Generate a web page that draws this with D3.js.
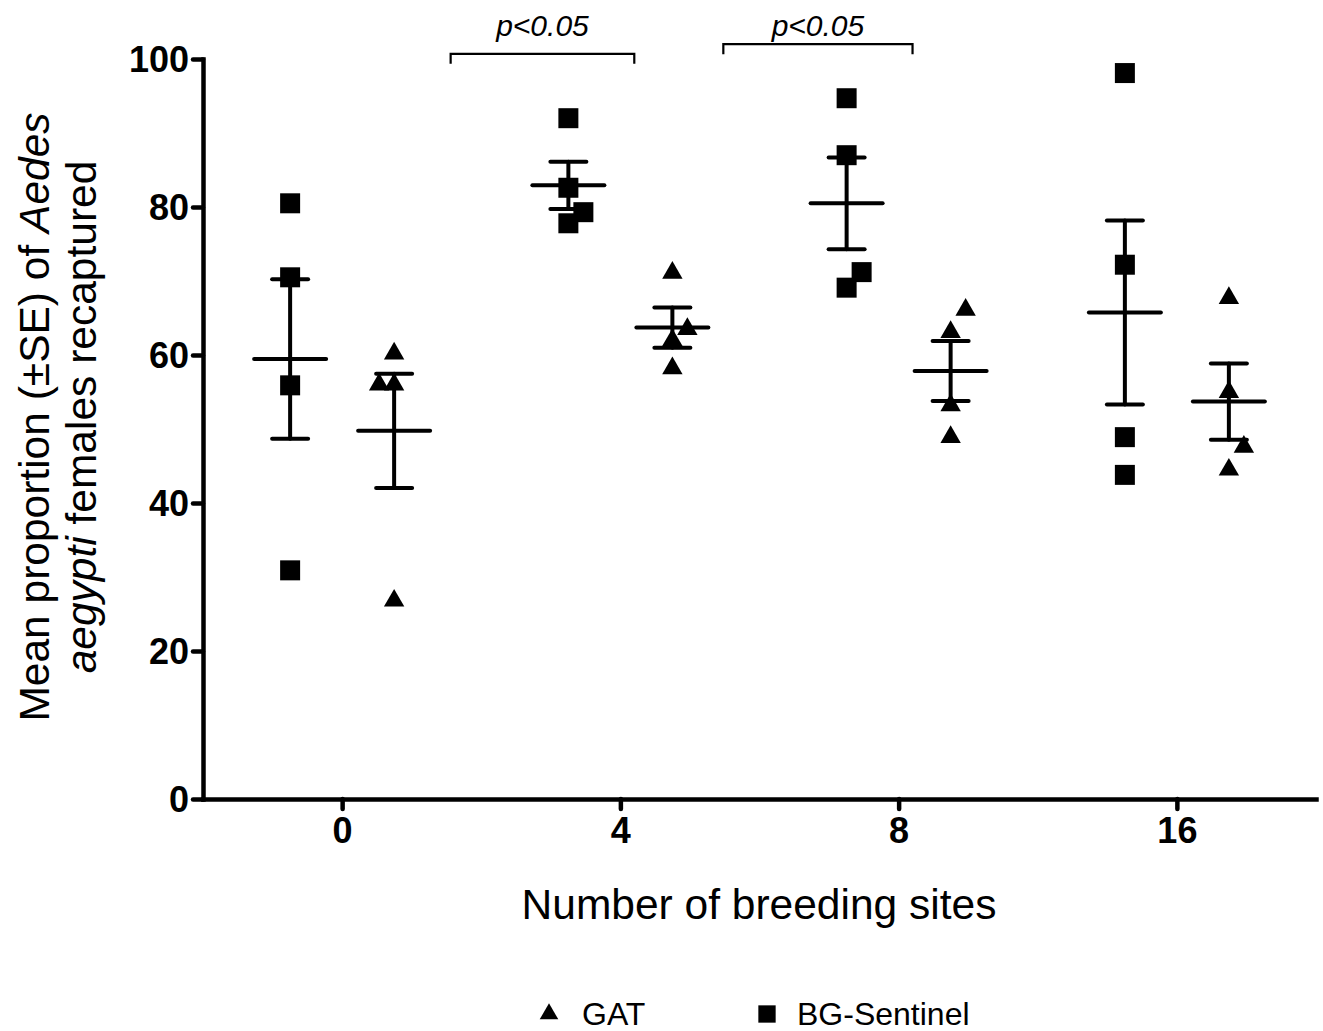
<!DOCTYPE html>
<html>
<head>
<meta charset="utf-8">
<script src="https://cdn.jsdelivr.net/npm/d3@7"></script>
<style>
  body { margin: 0; background: #fff; }
  text { font-family: "Liberation Sans", Arial, sans-serif; fill: #000; }
</style>
</head>
<body>
<div class="canvas"></div>
<script>
// breeding-site groups shown on the x axis
const categories = ['0', '4', '8', '16'];
const series = ['BG-Sentinel', 'GAT'];

// individual replicate values (% recaptured)
const bgSentinel = [
  [80.5, 70.5, 55.9, 30.9],
  [92.0, 82.6, 79.3, 77.8],
  [94.7, 87.0, 71.2, 69.1],
  [98.1, 72.2, 48.9, 43.8]
];
const gat = [
  [60.2, 56.0, 56.0, 26.8],
  [71.1, 63.5, 62.0, 58.2],
  [66.1, 63.1, 53.2, 48.9],
  [67.7, 55.0, 47.6, 44.5]
];
const yTicks = [0, 20, 40, 60, 80, 100];

// significance brackets between neighbouring groups
const brackets = [
  { label: 'p<0.05', from: 0.39, to: 1.05, level: 100.7 },
  { label: 'p<0.05', from: 1.37, to: 2.05, level: 102.0 }
];

const width = 1323, height = 1031;

const svg = d3.select('.canvas')
  .append('svg')
  .attr('width', width)
  .attr('height', height);

const x = d3.scalePoint()
  .domain(categories)
  .range([203, 1316])
  .padding(0.5);

const inner = d3.scalePoint()
  .domain(series)
  .range([-52, 52]);

const y = d3.scaleLinear()
  .domain([0, 100])
  .range([799, 59]);

// index scale for bracket ends (same geometry as x)
const xi = d3.scaleLinear()
  .domain([-0.5, categories.length - 0.5])
  .range([203, 1316]);

// axes
const yAxis = svg.append('g')
  .attr('transform', 'translate(203,0)')
  .call(d3.axisLeft(y).tickValues(yTicks).tickSize(10).tickSizeOuter(0).tickPadding(4));

const xAxis = svg.append('g')
  .attr('transform', 'translate(0,799)')
  .call(d3.axisBottom(x).tickSize(10).tickSizeOuter(0).tickPadding(8));

[yAxis, xAxis].forEach(a => {
  a.select('.domain').attr('stroke', '#000').attr('stroke-width', 4.5).attr('stroke-linecap', 'square');
  a.selectAll('.tick line').attr('stroke', '#000').attr('stroke-width', 4.5).attr('stroke-linecap', 'round');
  a.selectAll('.tick text')
    .style('font-family', '"Liberation Sans", Arial, sans-serif')
    .style('font-size', '36px')
    .style('font-weight', 'bold')
    .attr('fill', '#000');
});
yAxis.selectAll('.tick text').attr('dy', '0.36em');

// build points; overlapping markers are nudged sideways
const groups = [];
categories.forEach((c, ci) => {
  [[series[0], bgSentinel[ci]], [series[1], gat[ci]]].forEach(([s, vals]) => {
    const sorted = vals.slice().sort((a, b) => a - b);
    const placed = [];
    sorted.forEach(v => {
      const same = placed.find(p => p.col === 0 && Math.abs(p.v - v) < 0.5);
      const clash = placed.some(p => p.col === 0 && Math.abs(p.v - v) < 3.2);
      placed.push({ v, col: same ? -1 : (clash ? 1 : 0) });
    });
    const mean = d3.mean(vals);
    const se = d3.deviation(vals) / Math.sqrt(vals.length);
    groups.push({ cat: c, series: s, points: placed, mean, se });
  });
});

const g = svg.selectAll('g.group')
  .data(groups)
  .enter()
  .append('g')
  .attr('class', 'group')
  .attr('transform', d => `translate(${x(d.cat) + inner(d.series)},0)`);

const sym = {
  'BG-Sentinel': d3.symbol().type(d3.symbolSquare).size(400),
  'GAT': d3.symbol().type(d3.symbolTriangle).size(180)
};

g.each(function (d) {
  d3.select(this).selectAll('path.pt')
    .data(d.points)
    .enter()
    .append('path')
    .attr('class', 'pt')
    .attr('d', sym[d.series]())
    .attr('transform', p => `translate(${p.col * 15},${y(p.v)})`)
    .attr('fill', '#000');
});

// mean and SE bars
const lineStyle = sel => sel.attr('stroke', '#000').attr('stroke-width', 4).attr('stroke-linecap', 'round');

g.append('line')
  .attr('x1', 0).attr('x2', 0)
  .attr('y1', d => y(d.mean + d.se))
  .attr('y2', d => y(d.mean - d.se))
  .call(lineStyle);

g.append('line')
  .attr('x1', -36).attr('x2', 36)
  .attr('y1', d => y(d.mean)).attr('y2', d => y(d.mean))
  .call(lineStyle);

[1, -1].forEach(sign => {
  g.append('line')
    .attr('x1', -18).attr('x2', 18)
    .attr('y1', d => y(d.mean + sign * d.se))
    .attr('y2', d => y(d.mean + sign * d.se))
    .call(lineStyle);
});

// significance brackets
const br = svg.selectAll('g.bracket')
  .data(brackets)
  .enter()
  .append('g')
  .attr('class', 'bracket');

br.append('path')
  .attr('d', d => `M${xi(d.from)},${y(d.level) + 10}V${y(d.level)}H${xi(d.to)}V${y(d.level) + 10}`)
  .attr('fill', 'none')
  .attr('stroke', '#000')
  .attr('stroke-width', 2.2);

br.append('text')
  .attr('x', d => (xi(d.from) + xi(d.to)) / 2)
  .attr('y', 36)
  .attr('text-anchor', 'middle')
  .style('font-size', '30px')
  .style('font-style', 'italic')
  .text(d => d.label);

// axis titles
svg.append('text')
  .attr('x', 759)
  .attr('y', 919)
  .attr('text-anchor', 'middle')
  .style('font-size', '42.5px')
  .text('Number of breeding sites');

const yt = svg.append('text')
  .attr('transform', 'translate(49,417) rotate(-90)')
  .attr('text-anchor', 'middle')
  .style('font-size', '42.5px');
yt.append('tspan').text('Mean proportion (±SE) of ');
yt.append('tspan').style('font-style', 'italic').text('Aedes');

const yt2 = svg.append('text')
  .attr('transform', 'translate(96,417) rotate(-90)')
  .attr('text-anchor', 'middle')
  .style('font-size', '42.5px');
yt2.append('tspan').style('font-style', 'italic').text('aegypti');
yt2.append('tspan').text(' females recaptured');

// legend
const legendItems = [
  { name: 'GAT', x: 549 },
  { name: 'BG-Sentinel', x: 767 }
];
const lg = svg.selectAll('g.legend')
  .data(legendItems)
  .enter()
  .append('g')
  .attr('class', 'legend')
  .attr('transform', d => `translate(${d.x},1014)`);

lg.append('path')
  .attr('d', d => d.name === 'GAT'
    ? d3.symbol().type(d3.symbolTriangle).size(150)()
    : d3.symbol().type(d3.symbolSquare).size(300)())
  .attr('fill', '#000');

lg.append('text')
  .attr('x', d => d.name === 'GAT' ? 33 : 30)
  .attr('y', 11)
  .style('font-size', '32px')
  .text(d => d.name);
</script>
</body>
</html>
